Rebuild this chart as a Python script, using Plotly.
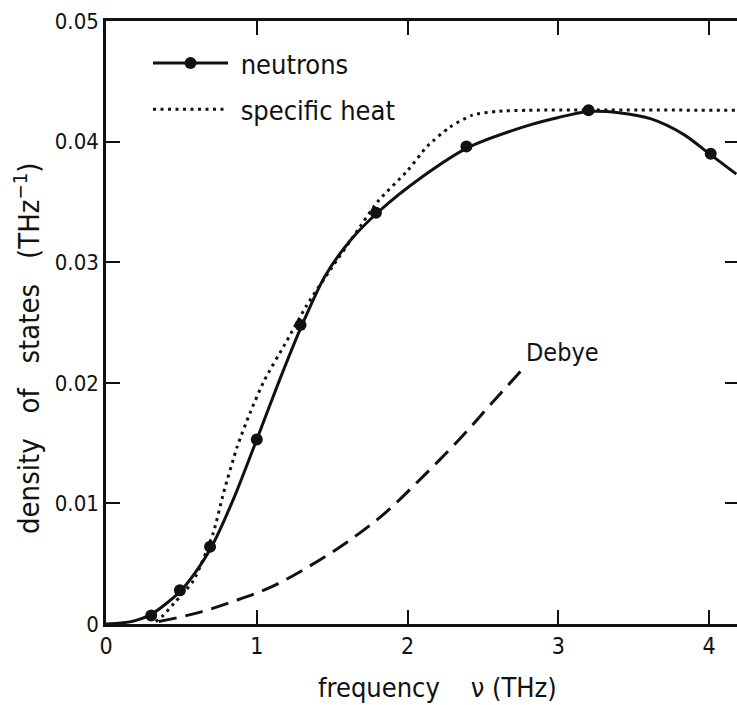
import plotly.graph_objects as go

# ---- data ----
neutron_curve_x = [0, 0.1, 0.2, 0.3, 0.4, 0.5, 0.6, 0.7, 0.85, 1.0, 1.15, 1.3, 1.45, 1.62, 1.8,
                   2.1, 2.4, 2.79, 3.0, 3.2, 3.4, 3.61, 3.83, 4.0, 4.18]
neutron_curve_y = [0, 0.00008, 0.0003, 0.0008, 0.0017, 0.0028, 0.0044, 0.0064, 0.0105, 0.0153,
                   0.0202, 0.0248, 0.0288, 0.0318, 0.0341, 0.0371, 0.0395, 0.0413, 0.0420,
                   0.0425, 0.0424, 0.0419, 0.0406, 0.0390, 0.0373]

neutron_pts_x = [0.3, 0.49, 0.69, 1.0, 1.29, 1.79, 2.39, 3.2, 4.01]
neutron_pts_y = [0.0007, 0.0028, 0.0064, 0.0153, 0.0248, 0.0341, 0.0396, 0.0426, 0.0390]

heat_x = [0.33, 0.37, 0.45, 0.58, 0.71, 0.78, 0.87, 0.955, 1.05, 1.2, 1.33, 1.5, 1.65, 1.8,
          2.0, 2.13, 2.28, 2.43, 2.59, 2.8, 4.18]
heat_y = [0.0002, 0.0006, 0.0017, 0.0036, 0.0075, 0.0109, 0.0147, 0.0175, 0.0202, 0.0235,
          0.0264, 0.0296, 0.0323, 0.0350, 0.0376, 0.0396, 0.0412, 0.0422, 0.0425, 0.0426, 0.0426]

debye_x = [0.35, 0.6, 0.85, 1.1, 1.35, 1.6, 1.85, 2.1, 2.35, 2.55, 2.76]
debye_y = [0.0002, 0.0009, 0.0019, 0.0031, 0.0048, 0.0068, 0.0092, 0.0122, 0.0154, 0.0182, 0.0211]

x_ticks = [0, 1, 2, 3, 4]
x_tick_labels = ["0", "1", "2", "3", "4"]
y_ticks = [0, 0.01, 0.02, 0.03, 0.04, 0.05]
y_tick_labels = ["0", "0.01", "0.02", "0.03", "0.04", "0.05"]

FONT = "DejaVu Sans Condensed, DejaVu Sans, sans-serif"
INK = "#111111"

W, H = 737, 705
L, R, T, B = 106, 0, 21, 81
pw, ph = W - L - R, H - T - B


def px_to_paper(px, py):
    return (px - L) / pw, 1 - (py - T) / ph


fig = go.Figure()

# legend-only entry for neutrons (line + marker)
fig.add_trace(go.Scatter(x=[None], y=[None], mode="lines+markers", name="\u00a0neutrons",
                         line=dict(color=INK, width=3), marker=dict(size=12, color=INK),
                         legendgroup="a"))
fig.add_trace(go.Scatter(x=heat_x, y=heat_y, mode="lines", name="\u00a0specific heat",
                         line=dict(color=INK, width=3, dash="3px,4.5px", shape="spline",
                                   smoothing=0.6),
                         legendgroup="b"))
fig.add_trace(go.Scatter(x=neutron_curve_x, y=neutron_curve_y, mode="lines", showlegend=False,
                         line=dict(color=INK, width=3, shape="spline", smoothing=0.8)))
fig.add_trace(go.Scatter(x=neutron_pts_x, y=neutron_pts_y, mode="markers", showlegend=False,
                         marker=dict(size=12, color=INK)))
fig.add_trace(go.Scatter(x=debye_x, y=debye_y, mode="lines", showlegend=False,
                         line=dict(color=INK, width=3, dash="18px,9px", shape="spline")))
# invisible trace to activate the right-hand tick axis
fig.add_trace(go.Scatter(x=[None], y=[None], yaxis="y2", showlegend=False, hoverinfo="skip"))

fig.add_annotation(x=2.77, y=0.0225, xref="x", yref="y", text="Debye", showarrow=False,
                   xanchor="left", yanchor="middle", font=dict(family=FONT, size=25, color=INK))

ax, ay = px_to_paper(437, 687)
fig.add_annotation(x=ax, y=ay, xref="paper", yref="paper",
                   text="frequency\u00a0\u00a0\u00a0\u00a0ν (THz)",
                   showarrow=False, xanchor="center", yanchor="middle",
                   font=dict(family=FONT, size=27, color=INK))
tx, ty = px_to_paper(27, 348)
fig.add_annotation(x=tx, y=ty, xref="paper", yref="paper",
                   text="density\u00a0\u00a0\u00a0of\u00a0\u00a0\u00a0states\u00a0\u00a0\u00a0(THz<sup>−1</sup>)",
                   showarrow=False, textangle=-90, xanchor="center", yanchor="middle",
                   font=dict(family=FONT, size=29, color=INK))

lx, ly = px_to_paper(148, 39)

fig.update_layout(
    width=W, height=H,
    margin=dict(l=L, r=R, t=T, b=B),
    plot_bgcolor="white", paper_bgcolor="white",
    font=dict(family=FONT, size=25, color=INK),
    showlegend=True,
    legend=dict(x=lx, y=ly, xanchor="left", yanchor="top", bgcolor="rgba(0,0,0,0)",
                font=dict(family=FONT, size=27, color=INK), itemwidth=75,
                tracegroupgap=8, traceorder="grouped"),
    xaxis=dict(range=[0, pw / 150.8], tickvals=x_ticks, ticktext=x_tick_labels,
               showgrid=False, zeroline=False, showline=True, linecolor=INK, linewidth=2.5,
               ticks="inside", ticklen=14, tickwidth=2, tickcolor=INK, mirror="ticks",
               automargin=False, tickfont=dict(family=FONT, size=23, color=INK)),
    yaxis=dict(range=[0, 0.05], tickvals=y_ticks, ticktext=y_tick_labels,
               showgrid=False, zeroline=False, showline=True, linecolor=INK, linewidth=2.5,
               ticks="inside", ticklen=14, tickwidth=2, tickcolor=INK,
               automargin=False, tickfont=dict(family=FONT, size=22, color=INK)),
    yaxis2=dict(range=[0, 0.05], overlaying="y", side="right", tickvals=y_ticks[1:-1],
                showticklabels=False, showgrid=False, zeroline=False, showline=False,
                automargin=False, ticks="inside", ticklen=12, tickwidth=2, tickcolor=INK),
)

# remove the default 8px page margin so the figure sits at the window's corner
fig.write_html("out.html", config={"displayModeBar": False},
               post_script="document.body.style.margin='0px';")
